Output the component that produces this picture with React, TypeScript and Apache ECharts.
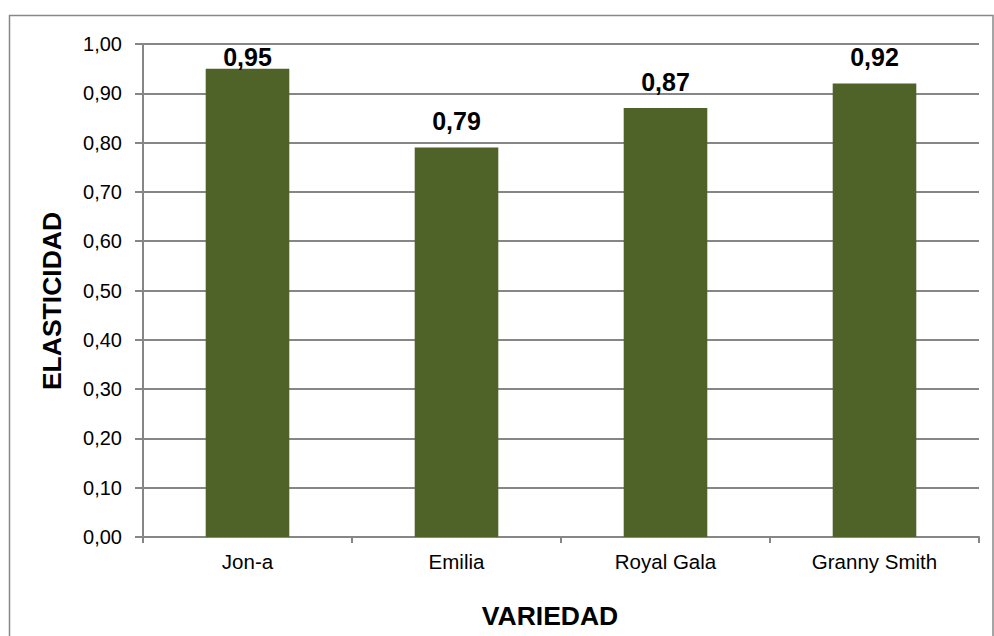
import React, { useEffect, useRef } from "react";
import * as echarts from "echarts";

const categories = ["Jon-a", "Emilia", "Royal Gala", "Granny Smith"];
const values = [0.95, 0.79, 0.87, 0.92];
const yTitle = "ELASTICIDAD";
const xTitle = "VARIEDAD";

const fmt = (v: number) => v.toFixed(2).replace(".", ",");

const GRID_TOP = 44;
const GRID_BOTTOM = 99;
const PAGE_H = 636;
const LABEL_FS = 25;
const LABEL_DIST = 14;

export default function App() {
  const ref = useRef<HTMLDivElement>(null);
  useEffect(() => {
    if (!ref.current) return;
    const chart = echarts.init(ref.current, null, { renderer: "svg" });
    const font = "'Liberation Sans', Arial, sans-serif";
    const plotH = PAGE_H - GRID_TOP - GRID_BOTTOM;
    const axisY = PAGE_H - GRID_BOTTOM;
    // Excel keeps data labels inside the plot area: shrink the gap when needed
    const data = values.map((v) => {
      const barTop = axisY - v * plotH;
      const room = barTop - GRID_TOP - LABEL_FS;
      return { value: v, label: { distance: Math.min(LABEL_DIST, room) } };
    });
    chart.setOption({
      animation: false,
      backgroundColor: "#ffffff",
      grid: { left: 143, right: 15, top: GRID_TOP, bottom: GRID_BOTTOM, containLabel: false },
      xAxis: {
        type: "category",
        data: categories,
        axisLine: { lineStyle: { color: "#868686", width: 2 } },
        axisTick: { show: true, length: 6, lineStyle: { color: "#868686", width: 2 } },
        axisLabel: { color: "#000", fontSize: 20.5, fontFamily: font, margin: 14 },
      },
      yAxis: {
        type: "value",
        min: 0,
        max: 1,
        interval: 0.1,
        axisLine: { show: true, lineStyle: { color: "#868686", width: 2 } },
        axisTick: { show: true, length: 8, lineStyle: { color: "#868686", width: 2 } },
        splitLine: { show: true, lineStyle: { color: "#868686", width: 2 } },
        axisLabel: {
          color: "#000",
          fontSize: 20,
          fontFamily: font,
          margin: 21,
          formatter: (v: number) => fmt(v),
        },
      },
      series: [
        {
          type: "bar",
          data,
          barWidth: "40%",
          itemStyle: { color: "#4F6228" },
          label: {
            show: true,
            position: "top",
            color: "#000",
            fontSize: LABEL_FS,
            fontWeight: "bold",
            fontFamily: font,
            formatter: (p: any) => fmt(p.value),
          },
        },
      ],
      graphic: [
        {
          type: "rect",
          shape: { x: 9.5, y: 15.5, width: 983.5, height: 700 },
          style: { fill: "none", stroke: "#888888", lineWidth: 1.5 },
          silent: true,
        },
        {
          type: "text",
          x: 52,
          y: 301,
          rotation: Math.PI / 2,
          style: {
            text: yTitle,
            fontSize: 26.5,
            fontWeight: "bold",
            fontFamily: font,
            fill: "#000",
            align: "center",
            verticalAlign: "middle",
          },
        },
        {
          type: "text",
          x: 550,
          y: 616,
          style: {
            text: xTitle,
            fontSize: 26.5,
            fontWeight: "bold",
            fontFamily: font,
            fill: "#000",
            align: "center",
            verticalAlign: "middle",
          },
        },
      ],
    });
    return () => chart.dispose();
  }, []);
  return (
    <div
      ref={ref}
      style={{ position: "absolute", left: 0, top: 0, width: 994, height: 636 }}
    />
  );
}
